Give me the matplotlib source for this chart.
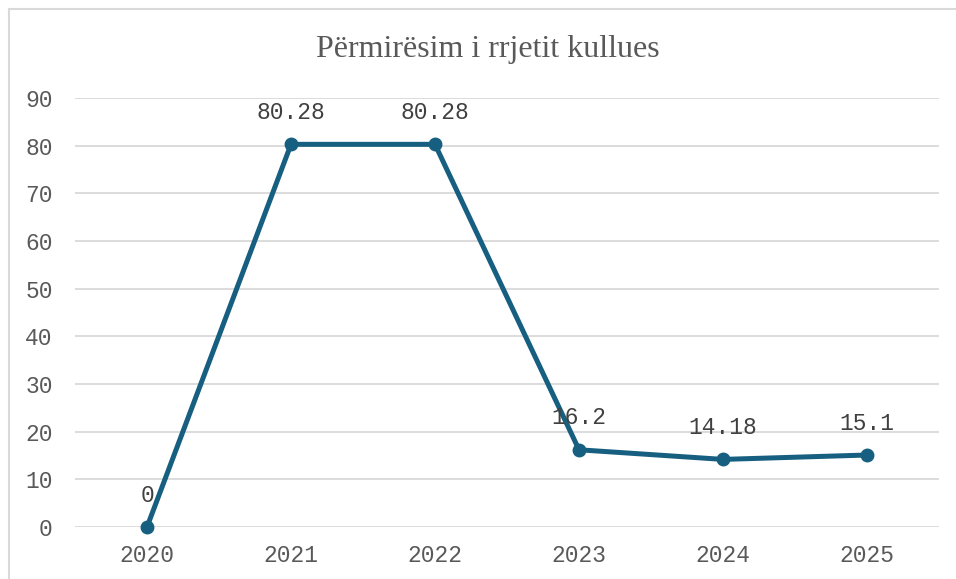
import matplotlib.pyplot as plt
from matplotlib.lines import Line2D

years = ['2020', '2021', '2022', '2023', '2024', '2025']
values = [0, 80.28, 80.28, 16.2, 14.18, 15.1]
value_labels = ['0', '80.28', '80.28', '16.2', '14.18', '15.1']
yticks = [0, 10, 20, 30, 40, 50, 60, 70, 80, 90]

line_color = '#175f80'
grid_color = '#d9d9d9'
text_color = '#595959'
mono = 'Liberation Mono'

fig = plt.figure(figsize=(9.56, 5.79), dpi=100)
ax = fig.add_axes([75/956, 1 - 527/579, (939 - 75)/956, (527 - 98)/579])

x = list(range(len(years)))
ax.plot(x, values, color=line_color, linewidth=3.6, marker='o', markersize=9,
        solid_joinstyle='round', zorder=3, clip_on=False)

for xi, v, lab in zip(x, values, value_labels):
    ax.annotate(lab, (xi, v), xytext=(0, 23), textcoords='offset points',
                ha='center', va='center', fontsize=16.5, family=mono,
                color='#404040', zorder=4)

ax.set_xlim(-0.5, len(years) - 0.5)
ax.set_ylim(0, 90)
ax.set_yticks(yticks)
ax.set_xticks(x)
ax.set_xticklabels(years)
ax.yaxis.grid(True, color=grid_color, linewidth=1.3)
ax.set_axisbelow(True)
for s in ax.spines.values():
    s.set_visible(False)
ax.tick_params(length=0, labelsize=16.5, labelcolor=text_color)
for t in ax.get_xticklabels() + ax.get_yticklabels():
    t.set_family(mono)
ax.tick_params(axis='x', pad=12)
ax.tick_params(axis='y', pad=16)

fig.text(488/956, 1 - 49/579, 'Përmirësim i rrjetit kullues', ha='center', va='center',
         fontsize=23, family='Liberation Serif', color=text_color)

# outer chart border (left and top visible)
fig.add_artist(Line2D([9/956, 9/956], [0, 1 - 9/579], transform=fig.transFigure,
                      color=grid_color, linewidth=1.5))
fig.add_artist(Line2D([9/956, 1], [1 - 9/579, 1 - 9/579], transform=fig.transFigure,
                      color=grid_color, linewidth=1.5))

fig.savefig('out.png', dpi=100)
